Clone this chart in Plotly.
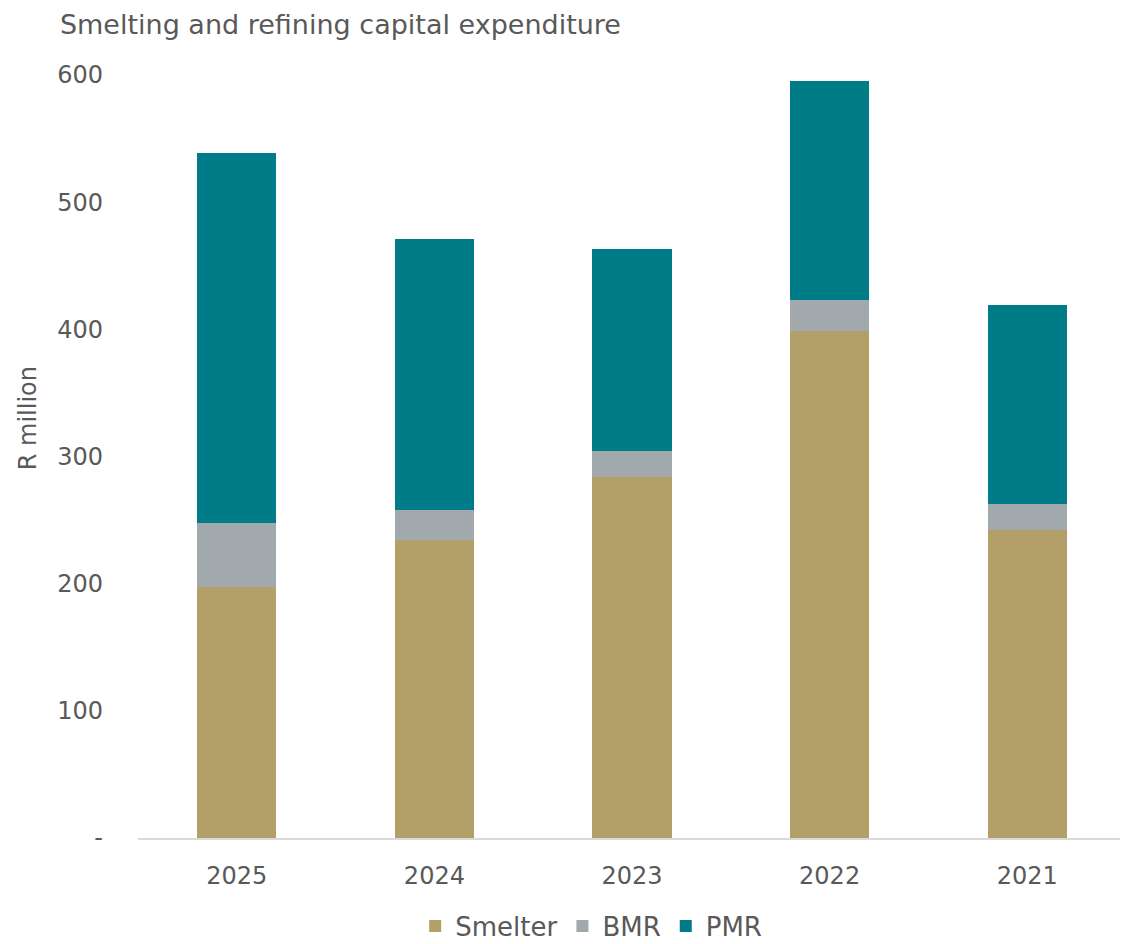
import plotly.graph_objects as go

years = ["2025", "2024", "2023", "2022", "2021"]
smelter = [197, 234, 284, 399, 242]
bmr = [51, 24, 20, 24, 21]
pmr = [291, 213, 159, 172, 156]

colors = {"Smelter": "#B3A068", "BMR": "#A2A9AD", "PMR": "#007C89"}
font_fam = "'DejaVu Sans', sans-serif"
grey = "#595959"

fig = go.Figure()
for name, vals in [("Smelter", smelter), ("BMR", bmr), ("PMR", pmr)]:
    fig.add_trace(go.Bar(x=years, y=vals, name=name, marker_color=colors[name],
                         marker_line_width=0))

fig.update_layout(
    barmode="stack",
    bargap=0.6,
    width=1128, height=944,
    margin=dict(l=130, r=10, t=67, b=114),
    plot_bgcolor="white", paper_bgcolor="white",
    font=dict(family=font_fam, color=grey, size=24),
    title=dict(text="Smelting and refining capital expenditure", x=0.046, xanchor="left",
               y=0.982, yanchor="middle", font=dict(size=27, color=grey)),
    legend=dict(orientation="h", xref="container", yref="container",
                x=0.517, xanchor="center", y=0.0275, yanchor="middle",
                font=dict(size=26, color=grey), traceorder="normal",
                itemwidth=30, tracegroupgap=0),
    showlegend=True,
    annotations=[dict(text="R million", xref="paper", yref="paper", x=-0.111, y=0.5505,
                      xanchor="center", yanchor="middle", textangle=-90, showarrow=False,
                      font=dict(size=24, color=grey))],
)
fig.update_xaxes(showline=True, linecolor="#D9D9D9", linewidth=2, ticks="",
                 tickfont=dict(size=24, color=grey), ticklabelstandoff=15)
fig.update_yaxes(range=[0, 600], tickvals=[0, 100, 200, 300, 400, 500, 600],
                 ticktext=["-", "100", "200", "300", "400", "500", "600"],
                 showgrid=False, zeroline=False, showline=False,
                 tickfont=dict(size=24, color=grey), ticklabelstandoff=34)

fig.write_html("out.html")
